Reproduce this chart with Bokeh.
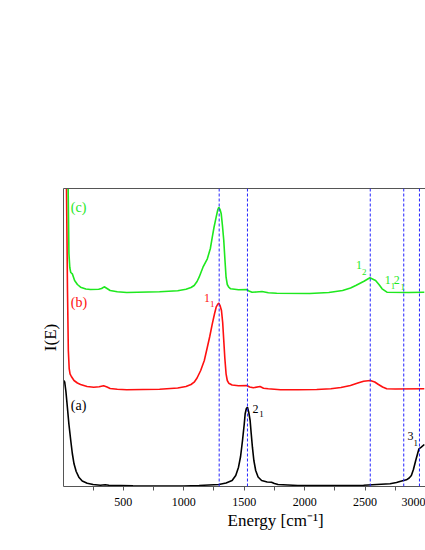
from bokeh.plotting import figure
from bokeh.models import Range1d, FixedTicker, LinearAxis, Label, Span, ColumnDataSource, Title
from bokeh.embed import file_html
from bokeh.resources import INLINE

# ---- data ----
energy_a = [10, 15, 25, 37, 50, 65, 78, 92, 110, 132, 160, 201, 250, 310, 350, 380, 580, 1000,
            1127, 1290, 1350, 1400, 1430, 1453, 1470, 1486, 1500, 1508, 1518, 1527, 1538, 1549,
            1558, 1568, 1580, 1595, 1615, 1644, 1690, 1726, 1750, 1780, 1944, 2488, 2597, 2707,
            2760, 2788, 2842, 2865, 2883, 2900, 2919, 2935, 2946, 2965, 2990]
inten_a = [106, 104.3, 95, 79.3, 62, 46, 33, 22.7, 15, 9.3, 5.5, 3.3, 2, 1.3, 1.8, 1.2, 0.7, 0.5,
           1, 2, 3.5, 6, 11, 19.3, 30, 46, 62, 72.7, 78, 79.3, 74, 66,
           53, 39.3, 26, 16, 9.5, 6, 4.5, 4.3, 3, 2, 1, 1.3, 2, 2.7,
           4, 5, 6.7, 8.5, 11, 17, 26, 33, 37.7, 39.3, 42]

energy_b = [15, 20, 30, 38, 45, 52, 59, 70, 92, 120, 146, 200, 255, 300, 337, 365, 391, 450, 528,
            800, 950, 1018, 1060, 1086, 1110, 1140, 1170, 1195, 1215, 1236, 1255, 1268, 1282,
            1290, 1300, 1312, 1322, 1331, 1340, 1350, 1360, 1372, 1400, 1453, 1522, 1545, 1576,
            1631, 1660, 1699, 1800, 1944, 2100, 2217, 2300, 2379, 2440, 2488, 2543, 2580, 2611,
            2645, 2679, 2750, 2990]
inten_b = [400, 300, 200, 100, 40, 22, 16.7, 14, 10, 7.5, 6, 4, 3.3, 3.7, 4.7, 3.5, 2, 1.2, 0.7,
           1.3, 2.5, 4, 6, 8.3, 12.5, 20, 30, 43.3, 54, 66.7, 77, 83.3, 86.5,
           87.3, 85, 80, 68, 50, 32, 16.7, 10, 7.3, 5.5, 4.7, 5, 3.5, 2.7,
           4, 2.2, 1.7, 0.8, 0.7, 1, 1.7, 3, 5, 7.5, 9.3, 10, 8.5, 6,
           3.5, 1.7, 1.5, 1.7]

energy_c = [15, 40, 50, 57, 65, 78, 97, 120, 146, 190, 228, 296, 320, 342, 365, 391, 450, 528,
            800, 950, 1018, 1060, 1086, 1110, 1127, 1159, 1195, 1220, 1236, 1250, 1268, 1282,
            1290, 1300, 1310, 1320, 1331, 1340, 1350, 1360, 1372, 1388, 1453, 1519, 1540, 1565,
            1600, 1647, 1700, 1769, 2042, 2200, 2314, 2380, 2423, 2491, 2540, 2587, 2615, 2641,
            2681, 2859, 2990]
inten_c = [250, 140, 40, 26, 21, 19.7, 13, 9, 6.3, 4.5, 4, 4.3, 5, 6.7, 5, 3, 1.8, 1,
           1.7, 2.8, 4.3, 6, 8, 12, 16.3, 26.3, 34.7, 45, 56.3, 66, 76.3, 84,
           86.3, 84, 79.7, 68, 53, 35, 16.3, 9, 6.3, 4.7, 3.7, 4, 2.5, 1.3,
           1.5, 2, 0.7, 0.3, 0, 1, 3, 5.5, 8, 12.3, 15.7, 13, 9, 4.7,
           1.3, 1, 1.3]

offset_a, offset_b, offset_c = 0, 96, 193
mode_lines = [1293, 1527, 2543, 2820, 2950]
x_ticks = [500, 1000, 1500, 2000, 2500, 3000]
x_minor = [250, 750, 1250, 1750, 2250, 2750]

GREEN = "#1ee81e"
RED = "#ff1010"
BLUE = "#2424ff"
FONT = "'Liberation Serif', 'Times New Roman', serif"

p = figure(width=425, height=540, x_range=Range1d(5, 3000), y_range=Range1d(0, 298),
           output_backend="svg", toolbar_location=None,
           min_border_left=63, min_border_right=0, min_border_top=188, min_border_bottom=54)
p.outline_line_color = None
p.grid.visible = False
p.background_fill_color = "white"
p.border_fill_color = "white"

# x axis
xa = p.xaxis[0]
xa.ticker = FixedTicker(ticks=x_ticks, minor_ticks=x_minor)
xa.axis_line_color = "#555555"
xa.major_tick_line_color = "#555555"
xa.minor_tick_line_color = "#555555"
xa.major_tick_in = 0
xa.major_tick_out = 4
xa.minor_tick_in = 0
xa.minor_tick_out = 4
xa.major_label_standoff = 7
xa.major_label_text_font = FONT
xa.major_label_text_font_size = "12px"
xa.major_label_text_color = "black"

# x axis title (placed to match the original, which is centred on a wider frame)
p.add_layout(Title(text="Energy [cm\u207b\u00b9]", align="left", offset=164, standoff=0,
                   text_font=FONT, text_font_size="17px", text_font_style="normal",
                   text_color="black"), "below")

# y axis
ya = p.yaxis[0]
ya.ticker = FixedTicker(ticks=[])
ya.axis_line_color = "#555555"
ya.major_tick_line_color = None
ya.minor_tick_line_color = None
ya.major_tick_out = 0
ya.major_label_standoff = 0
ya.axis_label = "I(E)"
ya.axis_label_standoff = 4
ya.axis_label_text_font = FONT
ya.axis_label_text_font_size = "17px"
ya.axis_label_text_font_style = "normal"
ya.axis_label_text_color = "black"

# top border
top = LinearAxis(ticker=FixedTicker(ticks=[]), axis_line_color="#555555",
                 major_tick_line_color=None, minor_tick_line_color=None,
                 major_tick_out=0, major_label_standoff=0)
p.add_layout(top, "above")

# mode lines
for m in mode_lines:
    p.add_layout(Span(location=m, dimension="height", line_color=BLUE,
                      line_width=1, line_dash="3 2"))

# spectra
src_a = ColumnDataSource(dict(x=energy_a, y=[v + offset_a for v in inten_a]))
src_b = ColumnDataSource(dict(x=energy_b, y=[v + offset_b for v in inten_b]))
src_c = ColumnDataSource(dict(x=energy_c, y=[v + offset_c for v in inten_c]))
p.line("x", "y", source=src_a, line_color="black", line_width=1.6)
p.line("x", "y", source=src_b, line_color=RED, line_width=1.6)
p.line("x", "y", source=src_c, line_color=GREEN, line_width=1.6)


def lab(x, y, text, color="black", size="12px", align="left"):
    p.add_layout(Label(x=x, y=y, text=text, text_color=color, text_font=FONT,
                       text_font_size=size, text_align=align, text_baseline="middle"))


# curve tags
lab(65, 279, "(c)", GREEN, "14px")
lab(65, 184, "(b)", RED, "14px")
lab(65, 81, "(a)", "black", "14px")

# peak labels
lab(1168, 189, "1", RED, "12px"); lab(1217, 183, "1", RED, "9px")
lab(1568, 78, "2", "black", "12px"); lab(1625, 73, "1", "black", "9px")
lab(2851, 51, "3", "black", "12px"); lab(2900, 44, "1", "black", "9px")
lab(2426, 222, "1", GREEN, "12px"); lab(2475, 215, "2", GREEN, "9px")
lab(2663, 207, "1", GREEN, "12px"); lab(2712, 201, "1", GREEN, "9px")
lab(2737, 207, "2", GREEN, "12px"); lab(2794, 200, "1", GREEN, "9px")

with open("out.html", "w") as f:
    f.write(file_html(p, INLINE))
